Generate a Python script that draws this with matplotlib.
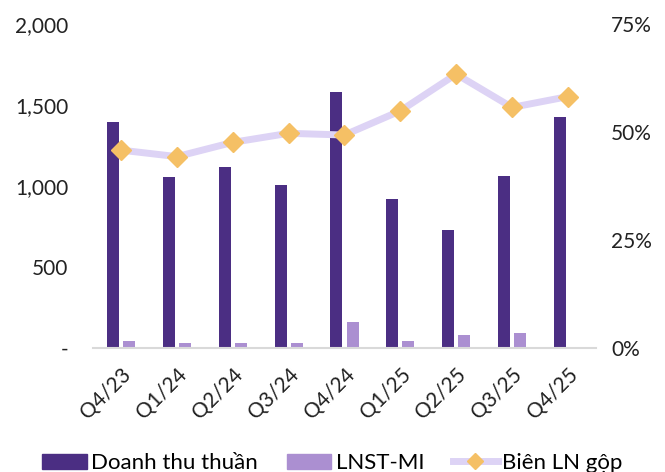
import matplotlib.pyplot as plt
import matplotlib.ticker as mticker
from matplotlib.lines import Line2D
from matplotlib.patches import Patch
import numpy as np

plt.rcParams['font.family'] = ['Lato', 'DejaVu Sans']

# data
quarters = ['Q4/23', 'Q1/24', 'Q2/24', 'Q3/24', 'Q4/24', 'Q1/25', 'Q2/25', 'Q3/25', 'Q4/25']
revenue = [1395, 1056, 1117, 1006, 1580, 920, 728, 1062, 1426]
net_profit = [43, 27, 29, 27, 157, 43, 78, 91, 5]
gross_margin = [45.8, 44.3, 47.6, 49.7, 49.3, 54.9, 63.4, 55.7, 58.2]

c_dark = '#4B2E83'
c_light = '#AB8FD1'
c_line = '#DDD3F5'
c_mark = '#F5C065'

fig = plt.figure(figsize=(6.65, 4.72), dpi=100)
ax = fig.add_axes([0.14, 0.263, 0.756, 0.686])
x = np.arange(len(quarters))
w = 0.215

ax.bar(x - 0.145, revenue, w, color=c_dark, zorder=2)
ax.bar(x + 0.145, net_profit, w, color=c_light, zorder=2)

ax.set_xlim(-0.5, 8.5)
ax.set_ylim(0, 2000)
ax.set_yticks([0, 500, 1000, 1500, 2000])
ax.yaxis.set_major_formatter(mticker.FuncFormatter(
    lambda v, p: '-' if v == 0 else f'{v:,.0f}'))
ax.set_xticks(x)
ax.set_xticklabels(quarters, rotation=45, ha='right', rotation_mode='anchor')
ax.tick_params(axis='both', length=0, labelsize=15, colors='#222222')
ax.tick_params(axis='y', pad=18)
ax.tick_params(axis='x', pad=12)
for s in ['top', 'right', 'left']:
    ax.spines[s].set_visible(False)
ax.spines['bottom'].set_color('#D9D9D9')
ax.spines['bottom'].set_linewidth(1.5)

ax2 = ax.twinx()
ax2.plot(x, gross_margin, color=c_line, linewidth=5, marker='D', markersize=10,
         markerfacecolor=c_mark, markeredgecolor=c_mark, zorder=3)
ax2.set_ylim(0, 75)
ax2.set_yticks([0, 25, 50, 75])
ax2.yaxis.set_major_formatter(mticker.FuncFormatter(lambda v, p: f'{v:.0f}%'))
ax2.tick_params(axis='y', length=0, labelsize=15, colors='#222222', pad=11)
for s in ax2.spines.values():
    s.set_visible(False)

handles = [
    Patch(color=c_dark),
    Patch(color=c_light),
    Line2D([0], [0], color=c_line, linewidth=5, marker='D', markersize=8,
           markerfacecolor=c_mark, markeredgecolor=c_mark),
]
fig.legend(handles, ['Doanh thu thuần', 'LNST-MI', 'Biên LN gộp'],
           loc='lower center', bbox_to_anchor=(0.5, -0.045), ncol=3, frameon=False,
           fontsize=16, handlelength=2.0, handleheight=0.7, columnspacing=1.3,
           handletextpad=0.2)

fig.savefig('out.png', dpi=100)
